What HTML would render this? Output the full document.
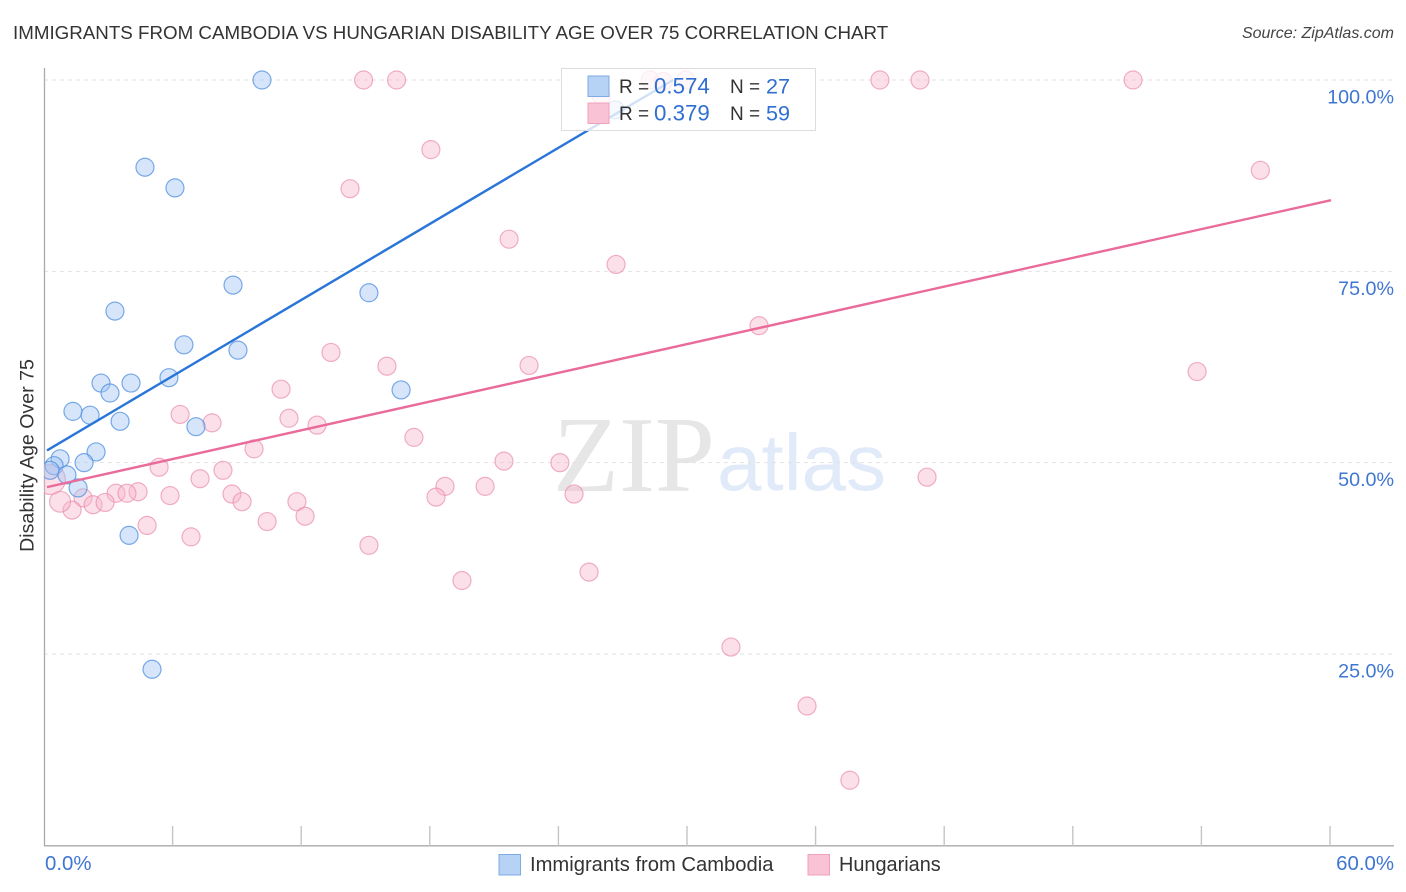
<!DOCTYPE html>
<html lang="en">
<head>
<meta charset="utf-8">
<title>Immigrants from Cambodia vs Hungarian Disability Age Over 75 Correlation Chart</title>
<style>
html,body{margin:0;padding:0;background:#fff;width:1406px;height:892px;overflow:hidden}
svg{display:block;font-family:"Liberation Sans",sans-serif}
</style>
</head>
<body>
<svg id="chart" width="1406" height="892" viewBox="0 0 1406 892" xmlns="http://www.w3.org/2000/svg">
  <defs><clipPath id="plot-clip"><rect x="44" y="60" width="1350" height="786"/></clipPath></defs>
  <rect x="0" y="0" width="1406" height="892" fill="#fff"/>
  <text x="13" y="39" font-size="18.75" fill="#333">IMMIGRANTS FROM CAMBODIA VS HUNGARIAN DISABILITY AGE OVER 75 CORRELATION CHART</text>
  <text x="1394" y="38" font-size="16" font-style="italic" fill="#444" text-anchor="end">Source: ZipAtlas.com</text>
  <text x="553" y="491" font-family="'Liberation Serif',serif" font-size="108" fill="#e6e6e6">ZIP</text>
  <text x="717" y="490" font-size="80" fill="#e0eaf9">atlas</text>
  <g id="grid"></g>
  <g id="axes"></g>
  <g id="points" clip-path="url(#plot-clip)"></g>
  <g id="lines"></g>
  <text transform="translate(33.500,455.500) rotate(-90)" font-size="19.600" fill="#333" text-anchor="middle">Disability Age Over 75</text>
  <g id="ylabels"></g>
  <g id="xlabels"></g>
  <g>
    <rect x="561.5" y="68.5" width="254" height="62" fill="#fff" fill-opacity="0.78" stroke="#ddd" stroke-width="1"/>
    <rect x="588" y="76" width="21" height="20.500" fill="#b6d2f5" stroke="#7fabe3" stroke-width="1"/>
    <rect x="588" y="103" width="21" height="20.500" fill="#f9c3d5" stroke="#f0a0bb" stroke-width="1"/>
    <g font-size="19">
      <text x="619" y="93" fill="#333">R =</text>
      <text x="654" y="93.500" font-size="22.300" fill="#2f6fd0">0.574</text>
      <text x="730" y="93" fill="#333">N =</text>
      <text x="766" y="93.500" font-size="21.600" fill="#2f6fd0">27</text>
      <text x="619" y="120" fill="#333">R =</text>
      <text x="654" y="120.500" font-size="22.300" fill="#2f6fd0">0.379</text>
      <text x="730" y="120" fill="#333">N =</text>
      <text x="766" y="120.500" font-size="21.600" fill="#2f6fd0">59</text>
    </g>
  </g>
  <g>
    <rect x="499" y="854.500" width="21.500" height="20.500" fill="#b6d2f5" stroke="#7fabe3" stroke-width="1"/>
    <text x="530" y="871" font-size="20.200" fill="#333">Immigrants from Cambodia</text>
    <rect x="808" y="854.500" width="21.500" height="20.500" fill="#f9c3d5" stroke="#f0a0bb" stroke-width="1"/>
    <text x="839" y="871" font-size="19.900" fill="#333">Hungarians</text>
  </g>
</svg>
<script>
// Chart data (x = percent immigrants, y = disability age over 75 percent)
var yTickValues = [100, 75, 50, 25];
var yTickLabels = ["100.0%", "75.0%", "50.0%", "25.0%"];
var xTickValues = [0, 6, 12, 18, 24, 30, 36, 42, 48, 54, 60];
var xEndLabels = ["0.0%", "60.0%"];

var cambodiaX = [10.17, 4.71, 6.11, 8.82, 15.16, 3.31, 6.53, 9.05, 5.83, 2.66, 4.06, 3.08, 16.66, 1.35, 2.15, 3.55, 7.09, 2.43, 1.87, 0.75, 0.47, 0.28, 1.07, 1.59, 3.97, 5.04, 26.65];
var cambodiaY = [100, 88.6, 85.9, 73.2, 72.2, 69.8, 65.4, 64.7, 61.1, 60.4, 60.4, 59.1, 59.5, 56.7, 56.2, 55.4, 54.7, 51.4, 50.0, 50.5, 49.6, 49.0, 48.4, 46.7, 40.5, 23.0, 96.1];
var cambodiaR = [9, 9, 9, 9, 9, 9, 9, 9, 9, 9, 9, 9, 9, 9, 9, 9, 9, 9, 9, 9, 9, 9, 9, 9, 9, 9, 9];

var hungarianX = [14.91, 16.45, 28.28, 28.9, 29.95, 39.0, 40.87, 50.81, 18.05, 14.28, 56.75, 21.7, 26.69, 33.36, 13.39, 16.0, 22.63, 53.8, 11.06, 6.35, 7.84, 11.43, 12.74, 17.26, 9.8, 21.46, 24.07, 5.37, 8.35, 7.28, 41.2, 18.71, 20.58, 8.77, 24.73, 18.29, 5.88, 4.39, 3.36, 3.87, 1.82, 2.29, 2.85, 9.24, 11.8, 1.31, 0.75, 12.18, 10.41, 4.81, 6.86, 15.16, 19.5, 25.43, 32.05, 35.6, 37.6, 0.3, 26.0];
var hungarianY = [100, 100, 100, 99.8, 100, 100, 100, 100, 90.9, 85.8, 88.2, 79.2, 75.9, 67.9, 64.4, 62.6, 62.7, 61.9, 59.6, 56.3, 55.2, 55.8, 54.9, 53.3, 51.8, 50.2, 50.0, 49.4, 49.0, 47.9, 48.1, 46.9, 46.9, 45.9, 45.9, 45.5, 45.7, 46.2, 46.0, 46.0, 45.4, 44.5, 44.8, 44.9, 44.9, 43.8, 44.9, 43.0, 42.3, 41.8, 40.3, 39.2, 34.6, 35.7, 25.9, 18.2, 8.5, 47.8, 97.9];
var hungarianR = [9, 9, 9, 9, 9, 9, 9, 9, 9, 9, 9, 9, 9, 9, 9, 9, 9, 9, 9, 9, 9, 9, 9, 9, 9, 9, 9, 9, 9, 9, 9, 9, 9, 9, 9, 9, 9, 9, 9, 9, 9, 9, 9, 9, 9, 9, 10.500, 9, 9, 9, 9, 9, 9, 9, 9, 9, 9, 15, 9];

var cambodiaTrendX = [0.14, 29.35];
var cambodiaTrendY = [51.6, 100];
var hungarianTrendX = [0.14, 60.05];
var hungarianTrendY = [46.8, 84.3];

var SVGNS = "http://www.w3.org/2000/svg";
function xScale(v) { return 44 + v * (1286 / 60); }
function yScale(v) { return 845.3 - v * 7.653; }
function make(tag, attrs, parent) {
  var el = document.createElementNS(SVGNS, tag);
  for (var k in attrs) { el.setAttribute(k, attrs[k]); }
  parent.appendChild(el);
  return el;
}

var gridG = document.getElementById("grid");
var axesG = document.getElementById("axes");
var pointsG = document.getElementById("points");
var linesG = document.getElementById("lines");
var yLabelsG = document.getElementById("ylabels");
var xLabelsG = document.getElementById("xlabels");

yTickValues.forEach(function (v, i) {
  var g = make("line", {x1: 44, x2: 1394, y1: yScale(v), y2: yScale(v), stroke: "#e2e2e2", "stroke-width": 1, "stroke-dasharray": "4 4"}, gridG);
  
  
  var t = make("text", {x: 1394, y: yScale(v) + 23.5, "font-size": 19.7, fill: "#3f76d2", "text-anchor": "end"}, yLabelsG);
  t.textContent = yTickLabels[i];
  
  
});

var yAxis = make("line", {x1: 44.5, x2: 44.5, y1: 68, y2: 846, stroke: "#aaa", "stroke-width": 1.3}, axesG);


var xAxis = make("line", {x1: 44, x2: 1394, y1: 845.8, y2: 845.8, stroke: "#aaa", "stroke-width": 1.3}, axesG);


xTickValues.forEach(function (v, i) {
  if (i === 0) { return; }
  var tick = make("line", {x1: xScale(v), x2: xScale(v), y1: 826, y2: 846, stroke: "#c4c4c4", "stroke-width": 1.4}, axesG);
  
  
});
var xl0 = make("text", {x: 45, y: 870, "font-size": 20.4, fill: "#3f76d2"}, xLabelsG);
xl0.textContent = xEndLabels[0];


var xl1 = make("text", {x: 1394, y: 870, "font-size": 20.4, fill: "#3f76d2", "text-anchor": "end"}, xLabelsG);
xl1.textContent = xEndLabels[1];



hungarianX.forEach(function (v, i) {
  var c = make("circle", {cx: xScale(v), cy: yScale(hungarianY[i]), r: hungarianR[i], fill: "#f7b4cb", "fill-opacity": 0.42, stroke: "#ea8dae", "stroke-opacity": 0.7, "stroke-width": 1.2}, pointsG);
  
  
});
cambodiaX.forEach(function (v, i) {
  var c = make("circle", {cx: xScale(v), cy: yScale(cambodiaY[i]), r: cambodiaR[i], fill: "#a3c6f2", "fill-opacity": 0.45, stroke: "#4f8fe0", "stroke-opacity": 0.75, "stroke-width": 1.2}, pointsG);
  
  
});

var blueLine = make("line", {x1: xScale(cambodiaTrendX[0]), y1: yScale(cambodiaTrendY[0]), x2: xScale(cambodiaTrendX[1]), y2: yScale(cambodiaTrendY[1]), stroke: "#2a76d8", "stroke-width": 2.4}, linesG);


var pinkLine = make("line", {x1: xScale(hungarianTrendX[0]), y1: yScale(hungarianTrendY[0]), x2: xScale(hungarianTrendX[1]), y2: yScale(hungarianTrendY[1]), stroke: "#ea6a9a", "stroke-width": 2.4}, linesG);


</script>
</body>
</html>
